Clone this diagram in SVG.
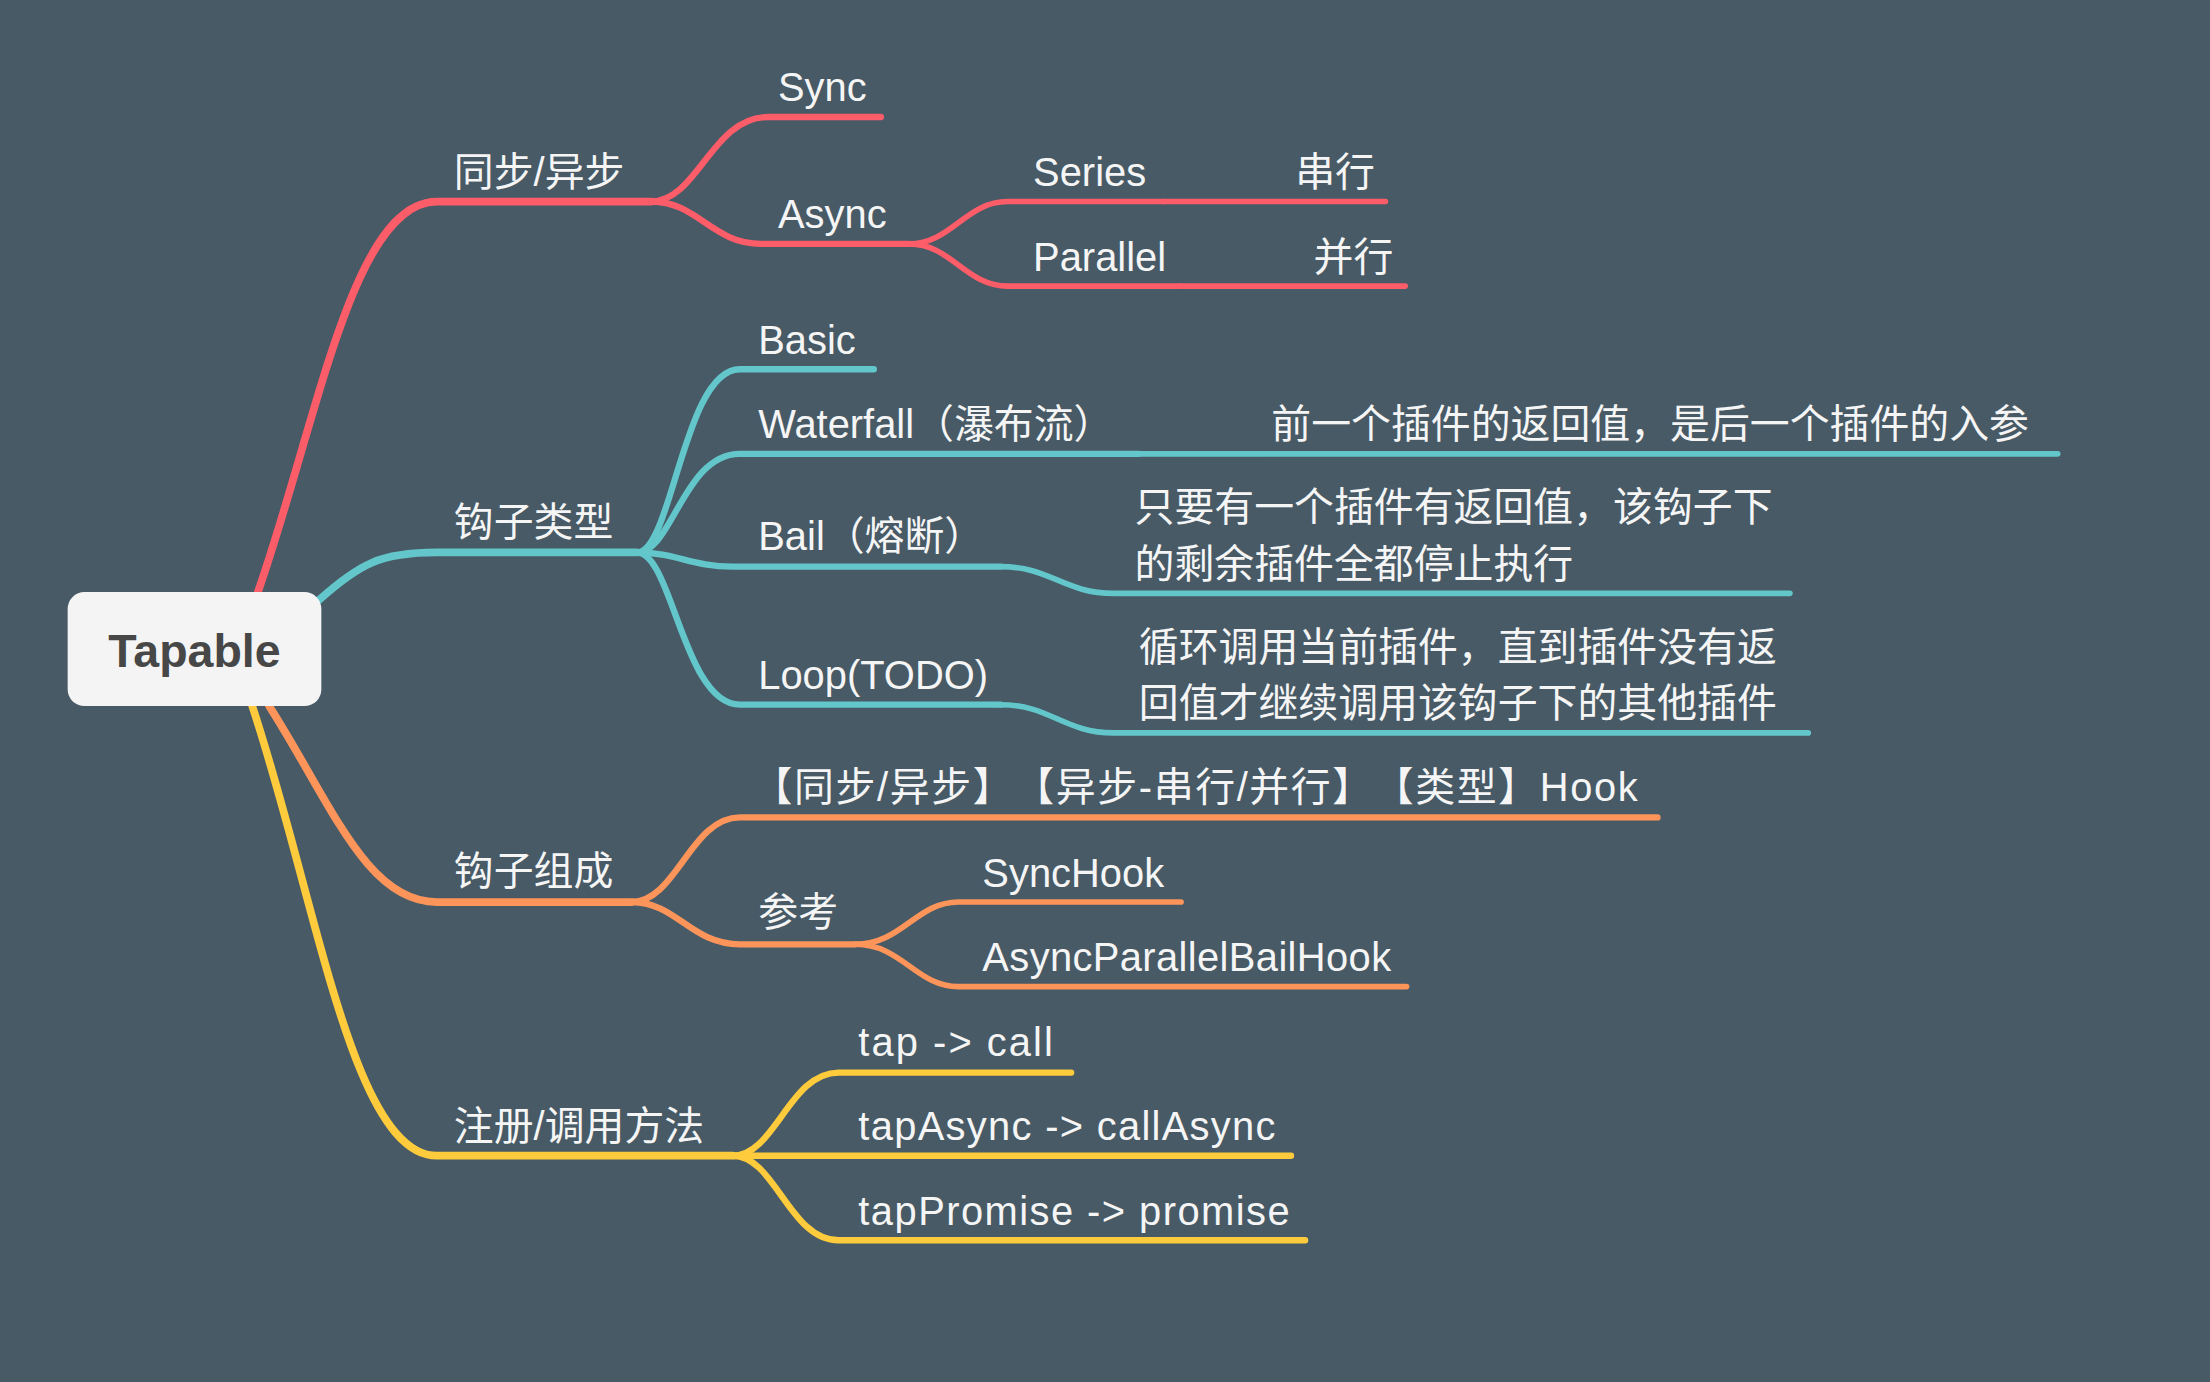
<svg xmlns="http://www.w3.org/2000/svg" width="2210" height="1382" viewBox="0 0 2210 1382">
<defs>
<style>
.bg{fill:#475a66}
.ln{fill:none;stroke-linecap:round;stroke-linejoin:round}
.m{stroke-width:5.5}
.s{stroke-width:4.5}
.t{stroke-width:4}
.red{stroke:#fd5c69}
.teal{stroke:#63c6ca}
.org{stroke:#fd955a}
.yel{stroke:#fdcb3b}
.lbl{font-family:"Liberation Sans","Noto Sans CJK SC",sans-serif;font-size:28.3px;fill:#f5f5f5;text-spacing-trim:space-all}
.root{fill:#f4f4f4}
.rtxt{font-family:"Liberation Sans","Noto Sans CJK SC",sans-serif;font-size:33px;font-weight:bold;fill:#474747}
</style>
</defs>
<rect class="bg" x="0" y="0" width="2210" height="1382"/>
<g transform="scale(1.4094)">
<g id="connectors">
<path class="ln m red" d="M183,420 C225,300 250,143 310,143 H462"/>
<path class="ln s red" d="M462,143 C495,143 505,83 545,83 H625"/>
<path class="ln s red" d="M462,143 C495,143 505,173 540,173 H645"/>
<path class="ln t red" d="M645,173 C675,173 685,143 715,143 H826"/>
<path class="ln t red" d="M645,173 C675,173 685,203 715,203 H838"/>
<path class="ln t red" d="M826,143 H983"/>
<path class="ln t red" d="M838,203 H997"/>
<path class="ln m teal" d="M226,426 C255,400 270,392 310,392 H452"/>
<path class="ln s teal" d="M452,392 C477,392 485,262 525,262 H620"/>
<path class="ln s teal" d="M452,392 C477,392 485,322 525,322 H808"/>
<path class="ln s teal" d="M452,392 C480,392 490,402 520,402 H710"/>
<path class="ln s teal" d="M452,392 C477,392 485,500 525,500 H710"/>
<path class="ln t teal" d="M808,322 H1460"/>
<path class="ln t teal" d="M710,402 C745,402 755,421 790,421 H1270"/>
<path class="ln t teal" d="M710,500 C745,500 755,520 790,520 H1283"/>
<path class="ln m org" d="M191,501 C235,570 260,640 310,640 H448"/>
<path class="ln s org" d="M448,640 C480,640 490,580 525,580 H1176"/>
<path class="ln s org" d="M448,640 C480,640 490,670 525,670 H607"/>
<path class="ln t org" d="M607,670 C640,670 650,640 680,640 H838"/>
<path class="ln t org" d="M607,670 C640,670 650,700 680,700 H998"/>
<path class="ln m yel" d="M179,501 C225,640 250,820 310,820 H520"/>
<path class="ln s yel" d="M520,820 C550,820 560,761 595,761 H760"/>
<path class="ln s yel" d="M520,820 H916"/>
<path class="ln s yel" d="M520,820 C550,820 560,880 595,880 H926"/>
</g>
<g id="root">
<rect class="root" x="48" y="420" width="180" height="81" rx="12"/>
<text class="rtxt" x="138" y="473" text-anchor="middle">Tapable</text>
</g>
<g id="n-sync-async"><text class="lbl" x="322" y="132">同步/异步</text></g>
<g id="n-sync"><text class="lbl" x="552" y="72">Sync</text></g>
<g id="n-async"><text class="lbl" x="552" y="162">Async</text></g>
<g id="n-series"><text class="lbl" x="733" y="132">Series</text></g>
<g id="n-series-cn"><text class="lbl" x="919" y="132">串行</text></g>
<g id="n-parallel"><text class="lbl" x="733" y="192">Parallel</text></g>
<g id="n-parallel-cn"><text class="lbl" x="932" y="192">并行</text></g>
<g id="n-hook-type"><text class="lbl" x="322" y="380">钩子类型</text></g>
<g id="n-basic"><text class="lbl" x="538" y="251">Basic</text></g>
<g id="n-waterfall"><text class="lbl" x="538" y="311">Waterfall（瀑布流）</text></g>
<g id="n-waterfall-desc"><text class="lbl" x="902" y="311">前一个插件的返回值，是后一个插件的入参</text></g>
<g id="n-bail"><text class="lbl" x="538" y="390">Bail（熔断）</text></g>
<g id="n-bail-desc"><text class="lbl" x="805" y="370">只要有一个插件有返回值，该钩子下</text><text class="lbl" x="805" y="410">的剩余插件全都停止执行</text></g>
<g id="n-loop"><text class="lbl" x="538" y="489">Loop(TODO)</text></g>
<g id="n-loop-desc"><text class="lbl" x="808" y="469">循环调用当前插件，直到插件没有返</text><text class="lbl" x="808" y="509">回值才继续调用该钩子下的其他插件</text></g>
<g id="n-hook-compose"><text class="lbl" x="322" y="628">钩子组成</text></g>
<g id="n-compose-rule"><text class="lbl" x="534" y="568" textLength="628">【同步/异步】【异步-串行/并行】【类型】Hook</text></g>
<g id="n-ref"><text class="lbl" x="538" y="657">参考</text></g>
<g id="n-synchook"><text class="lbl" x="697" y="629">SyncHook</text></g>
<g id="n-apbh"><text class="lbl" x="697" y="689" textLength="290">AsyncParallelBailHook</text></g>
<g id="n-methods"><text class="lbl" x="322" y="809">注册/调用方法</text></g>
<g id="n-tap"><text class="lbl" x="609" y="749" textLength="138">tap -&gt; call</text></g>
<g id="n-tapasync"><text class="lbl" x="609" y="809" textLength="296">tapAsync -&gt; callAsync</text></g>
<g id="n-tappromise"><text class="lbl" x="609" y="869" textLength="306">tapPromise -&gt; promise</text></g>
</g>
</svg>
